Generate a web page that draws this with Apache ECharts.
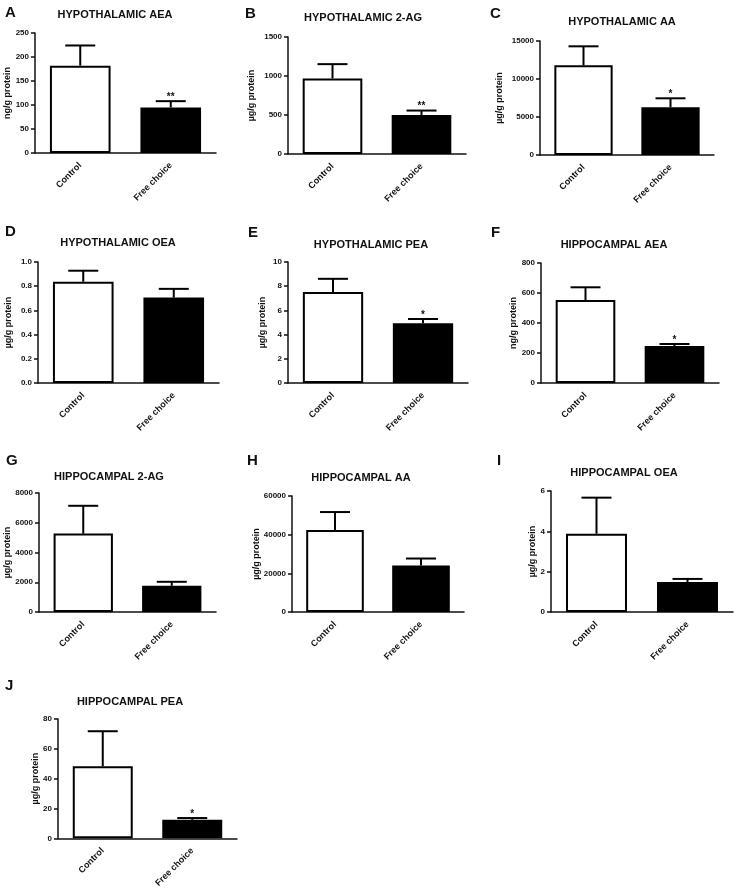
<!DOCTYPE html>
<html>
<head>
    <meta charset="utf-8" />
    <title>Endocannabinoids - control vs free choice</title>
    <style>
        html, body { margin: 0; padding: 0; background: #fff; }
        #chart { width: 737px; height: 890px; }
    </style>
</head>
<body>
    <div id="chart"></div>
    <script type="text/javascript" src="https://cdn.jsdelivr.net/npm/echarts@6/dist/echarts.min.js"></script>
    <script type="text/javascript">
        // groups
        const categories = ['Control', 'Free choice'];
        // panels
        const panelLetters = ['A', 'B', 'C', 'D', 'E', 'F', 'G', 'H', 'I', 'J'];
        const panelTitles = ['HYPOTHALAMIC AEA', 'HYPOTHALAMIC 2-AG', 'HYPOTHALAMIC AA', 'HYPOTHALAMIC OEA', 'HYPOTHALAMIC PEA',
            'HIPPOCAMPAL AEA', 'HIPPOCAMPAL 2-AG', 'HIPPOCAMPAL AA', 'HIPPOCAMPAL OEA', 'HIPPOCAMPAL PEA'];
        const yNames = ['ng/g protein', 'µg/g protein', 'µg/g protein', 'µg/g protein', 'µg/g protein',
            'ng/g protein', 'µg/g protein', 'µg/g protein', 'µg/g protein', 'µg/g protein'];
        // y axis ticks
        const yMax = [250, 1500, 15000, 1, 10, 800, 8000, 60000, 6, 80];
        const yStep = [50, 500, 5000, 0.2, 2, 200, 2000, 20000, 2, 20];
        // mean and SEM, one value per panel
        const controlMean = [182, 969, 11800, 0.837, 7.53, 553, 5270, 42360, 3.88, 48.4];
        const controlSem = [42, 183, 2500, 0.091, 1.08, 85, 1870, 9340, 1.79, 23.4];
        const freeMean = [95, 501, 6280, 0.706, 4.93, 247, 1760, 24030, 1.49, 12.4];
        const freeSem = [13, 56, 1180, 0.072, 0.36, 13, 270, 3630, 0.15, 1.2];
        const freeStars = ['**', '**', '*', '', '*', '*', '', '', '', '*'];

        // layout of each panel (plot area, title centre, letter, y name gap)
        const layout = [
            { left: 35, top: 33, width: 181, height: 120, tx: 115, ty: 15, lx: 5, ly: 13, gap: 23 },
            { left: 288, top: 37, width: 178, height: 117, tx: 363, ty: 18, lx: 245, ly: 14, gap: 32 },
            { left: 540, top: 41, width: 174, height: 114, tx: 622, ty: 22, lx: 490, ly: 14, gap: 36 },
            { left: 38, top: 262, width: 181, height: 121, tx: 118, ty: 243, lx: 5, ly: 232, gap: 25 },
            { left: 288, top: 262, width: 180, height: 121, tx: 371, ty: 245, lx: 248, ly: 233, gap: 21 },
            { left: 541, top: 263, width: 178, height: 120, tx: 614, ty: 245, lx: 491, ly: 233, gap: 23 },
            { left: 39, top: 493, width: 177, height: 119, tx: 109, ty: 477, lx: 6, ly: 461, gap: 27 },
            { left: 292, top: 496, width: 172, height: 116, tx: 361, ty: 478, lx: 247, ly: 461, gap: 31 },
            { left: 551, top: 491, width: 182, height: 121, tx: 624, ty: 473, lx: 497, ly: 461, gap: 14 },
            { left: 58, top: 719, width: 179, height: 120, tx: 130, ty: 702, lx: 5, ly: 686, gap: 18 }
        ];

        const fontFam = '"Liberation Sans", Arial, Helvetica, sans-serif';
        const ink = '#111';

        const grids = [], xAxes = [], yAxes = [], series = [], graphics = [];

        layout.forEach(function (p, i) {
            grids.push({ left: p.left, top: p.top, width: p.width, height: p.height, containLabel: false });
            xAxes.push({
                type: 'category',
                gridIndex: i,
                data: categories,
                boundaryGap: true,
                axisLine: { lineStyle: { color: ink, width: 1.5 } },
                axisTick: { alignWithLabel: true, length: 4, lineStyle: { color: ink, width: 1.5 } },
                axisLabel: {
                    interval: 0, rotate: 45, margin: 11,
                    fontSize: 9, fontWeight: 'bold', fontFamily: fontFam, color: ink
                }
            });
            yAxes.push({
                type: 'value',
                gridIndex: i,
                min: 0,
                max: yMax[i],
                interval: yStep[i],
                name: yNames[i],
                nameLocation: 'middle',
                nameGap: p.gap,
                nameMoveOverlap: false,
                nameTextStyle: { fontSize: 9, fontWeight: 'bold', fontFamily: fontFam, color: ink },
                axisLine: { show: true, lineStyle: { color: ink, width: 1.5 } },
                axisTick: { show: true, length: 4, lineStyle: { color: ink, width: 1.5 } },
                splitLine: { show: false },
                axisLabel: {
                    margin: 6, fontSize: 8, fontWeight: 'bold', fontFamily: fontFam, color: ink,
                    formatter: function (v) { return yStep[i] < 1 ? v.toFixed(1) : String(v); }
                }
            });
            series.push({
                type: 'bar',
                xAxisIndex: i,
                yAxisIndex: i,
                barWidth: '67%',
                silent: true,
                data: [
                    { value: controlMean[i], itemStyle: { color: '#fff' } },
                    { value: freeMean[i], itemStyle: { color: '#000' } }
                ],
                itemStyle: { borderColor: '#000', borderWidth: 2 }
            });
            // upper error bars + significance stars
            const stars = ['', freeStars[i]];
            series.push({
                type: 'custom',
                xAxisIndex: i,
                yAxisIndex: i,
                silent: true,
                z: 3,
                data: [[0, controlMean[i], controlSem[i]], [1, freeMean[i], freeSem[i]]],
                renderItem: function (params, api) {
                    const c = api.value(0);
                    const m = api.value(1);
                    const s = api.value(2);
                    const base = api.coord([c, m]);
                    const top = api.coord([c, m + s]);
                    const capHalf = 15;
                    const children = [
                        { type: 'line', shape: { x1: base[0], y1: base[1], x2: top[0], y2: top[1] },
                          style: { stroke: '#000', lineWidth: 2 } },
                        { type: 'line', shape: { x1: top[0] - capHalf, y1: top[1], x2: top[0] + capHalf, y2: top[1] },
                          style: { stroke: '#000', lineWidth: 2 } }
                    ];
                    const star = stars[params.dataIndex];
                    if (star) {
                        children.push({
                            type: 'text',
                            style: {
                                text: star, x: top[0], y: top[1] + 1,
                                textAlign: 'center', textVerticalAlign: 'bottom',
                                font: 'bold 10px ' + fontFam, fill: ink
                            }
                        });
                    }
                    return { type: 'group', children: children };
                }
            });
            graphics.push({
                type: 'text', left: p.lx, top: p.ly - 8,
                style: { text: panelLetters[i], font: 'bold 15px ' + fontFam, fill: ink }
            });
            graphics.push({
                type: 'text', x: p.tx, y: p.ty,
                style: {
                    text: panelTitles[i], font: 'bold 11px ' + fontFam, fill: ink,
                    textAlign: 'center', textVerticalAlign: 'middle'
                }
            });
        });

        const chart = echarts.init(document.getElementById('chart'));
        chart.setOption({
            backgroundColor: '#fff',
            animation: false,
            grid: grids,
            xAxis: xAxes,
            yAxis: yAxes,
            series: series,
            graphic: graphics
        });
    </script>
</body>
</html>
